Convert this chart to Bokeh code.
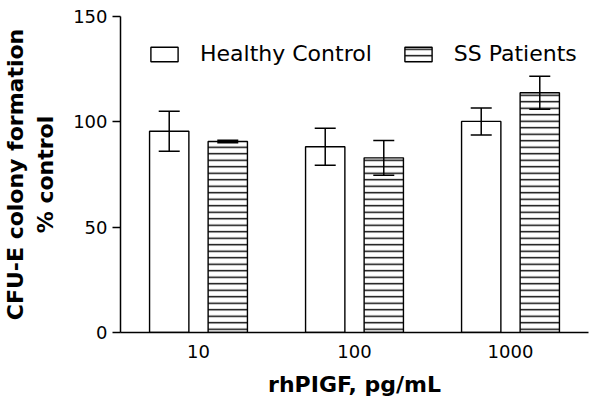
from bokeh.plotting import figure
from bokeh.models import (FactorRange, ColumnDataSource, Whisker, TeeHead, Legend, LegendItem,
                          FixedTicker)
from bokeh.transform import dodge
from bokeh.embed import file_html
from bokeh.resources import INLINE

doses = ["10", "100", "1000"]
healthy_mean = [95.5, 88.2, 100.2]
healthy_err = [9.5, 8.8, 6.4]
ss_mean = [90.7, 82.9, 113.8]
ss_err = [0.6, 8.2, 7.8]
y_ticks = [0, 50, 100, 150]

FONT = "DejaVu Sans"

src = ColumnDataSource(dict(
    dose=doses,
    h=healthy_mean, h_lo=[m - e for m, e in zip(healthy_mean, healthy_err)],
    h_hi=[m + e for m, e in zip(healthy_mean, healthy_err)],
    s=ss_mean, s_lo=[m - e for m, e in zip(ss_mean, ss_err)],
    s_hi=[m + e for m, e in zip(ss_mean, ss_err)],
))

p = figure(x_range=FactorRange(*doses, range_padding=0), y_range=(0, 150),
           width=595, height=403, output_backend="svg", toolbar_location=None,
           min_border_left=112, min_border_right=7, min_border_top=16, min_border_bottom=71)
p.outline_line_color = None
p.xgrid.visible = False
p.ygrid.visible = False

OFF = 0.1877
W = 0.252

r_h = p.vbar(x=dodge("dose", -OFF, range=p.x_range), top="h", width=W, source=src,
             fill_color="white", line_color="black", line_width=1.4)
r_s = p.vbar(x=dodge("dose", OFF, range=p.x_range), top="s", width=W, source=src,
             fill_color="white", line_color="black", line_width=1.4,
             hatch_pattern="horizontal_line", hatch_color="black", hatch_weight=1.4,
             hatch_scale=6.5)

for off, lo, hi in [(-OFF, "h_lo", "h_hi"), (OFF, "s_lo", "s_hi")]:
    w = Whisker(base=dodge("dose", off, range=p.x_range), lower=lo, upper=hi, source=src,
                line_color="black", line_width=1.5, level="annotation",
                upper_head=TeeHead(size=21, line_color="black", line_width=1.5),
                lower_head=TeeHead(size=21, line_color="black", line_width=1.5))
    p.add_layout(w)

# axes
p.yaxis.ticker = FixedTicker(ticks=y_ticks)
p.yaxis.minor_tick_line_color = None
p.yaxis.major_tick_out = 8
p.yaxis.major_tick_in = 0
p.yaxis.major_label_standoff = 5
p.yaxis.axis_line_width = 1.5
p.yaxis.major_tick_line_width = 1.5
p.yaxis.axis_label = "CFU-E colony formation\n% control"
p.yaxis.axis_label_standoff = 12

p.xaxis.major_tick_out = 0
p.xaxis.major_tick_in = 0
p.xaxis.major_label_standoff = 12
p.xaxis.axis_line_width = 1.5
p.xaxis.axis_label = "rhPIGF, pg/mL"
p.xaxis.axis_label_standoff = 11

for ax in (p.xaxis, p.yaxis):
    ax.major_label_text_font = FONT
    ax.major_label_text_font_size = "18px"
    ax.major_label_text_color = "black"
    ax.axis_label_text_font = FONT
    ax.axis_label_text_font_size = "22px"
    ax.axis_label_text_font_style = "bold"
    ax.axis_label_text_color = "black"
    ax.axis_line_color = "black"
    ax.major_tick_line_color = "black"

legend = Legend(items=[LegendItem(label="Healthy Control", renderers=[r_h]),
                       LegendItem(label="SS Patients", renderers=[r_s])],
                orientation="horizontal", location=(27, 266), padding=0, margin=0,
                border_line_color=None, background_fill_alpha=0,
                glyph_width=34, glyph_height=18, label_standoff=19, spacing=29,
                label_text_font=FONT, label_text_font_size="22px", label_text_color="black")
p.add_layout(legend)

open("out.html", "w").write(file_html(p, INLINE))
